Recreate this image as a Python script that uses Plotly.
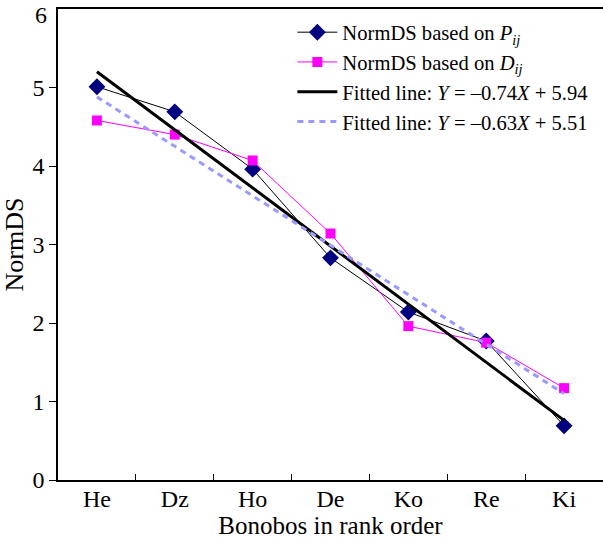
import plotly.graph_objects as go

bonobos = ["He", "Dz", "Ho", "De", "Ko", "Re", "Ki"]
rank_x = [1, 2, 3, 4, 5, 6, 7]
normds_p = [5.01, 4.69, 3.96, 2.83, 2.14, 1.77, 0.69]
normds_d = [4.58, 4.40, 4.07, 3.14, 1.96, 1.75, 1.17]
fit_p = {"slope": -0.74, "intercept": 5.94}
fit_d = {"slope": -0.63, "intercept": 5.51}
y_ticks = [0, 1, 2, 3, 4, 5, 6]

FONT = "Liberation Serif"

fig = go.Figure()
fig.add_trace(go.Scatter(
    x=bonobos, y=normds_p, mode="lines+markers",
    name="NormDS based on <i>P</i><sub><i>ij</i></sub>",
    line=dict(color="black", width=1),
    marker=dict(symbol="diamond", size=13, color="#000080"),
))
fig.add_trace(go.Scatter(
    x=bonobos, y=normds_d, mode="lines+markers",
    name="NormDS based on <i>D</i><sub><i>ij</i></sub>",
    line=dict(color="#ff00ff", width=1),
    marker=dict(symbol="square", size=10, color="#ff00ff"),
))
fig.add_trace(go.Scatter(
    x=bonobos, y=[fit_p["slope"] * v + fit_p["intercept"] for v in rank_x],
    mode="lines",
    name="Fitted line: <i>Y</i> = \u20130.74<i>X</i> + 5.94",
    line=dict(color="black", width=3),
))
fig.add_trace(go.Scatter(
    x=bonobos, y=[fit_d["slope"] * v + fit_d["intercept"] for v in rank_x],
    mode="lines",
    name="Fitted line: <i>Y</i> = \u20130.63<i>X</i> + 5.51",
    line=dict(color="#9999ff", width=3, dash="6px,5px"),
))

# top tick label drawn slightly below its tick so it stays inside the page
fig.add_annotation(
    x=0, xref="paper", xanchor="right", xshift=-9,
    y=y_ticks[-1], yref="y", yanchor="middle", yshift=-6,
    text=str(y_ticks[-1]), showarrow=False,
    font=dict(family=FONT, size=24, color="black"),
)

fig.update_layout(
    width=603, height=543,
    margin=dict(l=58, r=0, t=9, b=63, autoexpand=False),
    plot_bgcolor="white", paper_bgcolor="white",
    font=dict(family=FONT, color="black", size=20),
    showlegend=True,
    legend=dict(
        x=0.43, y=0.993, xanchor="left", yanchor="top",
        bgcolor="rgba(0,0,0,0)", font=dict(family=FONT, size=20.6),
        tracegroupgap=0, itemwidth=40,
    ),
    xaxis=dict(
        type="category", categoryorder="array", categoryarray=bonobos,
        range=[-0.5, 6.5], automargin=False,
        showline=True, linecolor="black", linewidth=1.5, mirror=True,
        ticks="inside", tickson="boundaries", ticklen=6, tickcolor="black",
        showgrid=False, zeroline=False,
        ticklabelstandoff=-4,
        tickfont=dict(family=FONT, size=24),
        title=dict(text="Bonobos in rank order", font=dict(family=FONT, size=25), standoff=4),
    ),
    yaxis=dict(
        range=[0, 6], automargin=False,
        tickmode="array", tickvals=y_ticks[:-1],
        ticktext=[str(v) for v in y_ticks[:-1]],
        showline=True, linecolor="black", linewidth=1.5,
        ticks="outside", ticklen=7, tickcolor="black",
        showgrid=False, zeroline=False,
        tickfont=dict(family=FONT, size=24),
        title=dict(text="NormDS", font=dict(family=FONT, size=26), standoff=8),
    ),
)

fig.write_html("out.html")
